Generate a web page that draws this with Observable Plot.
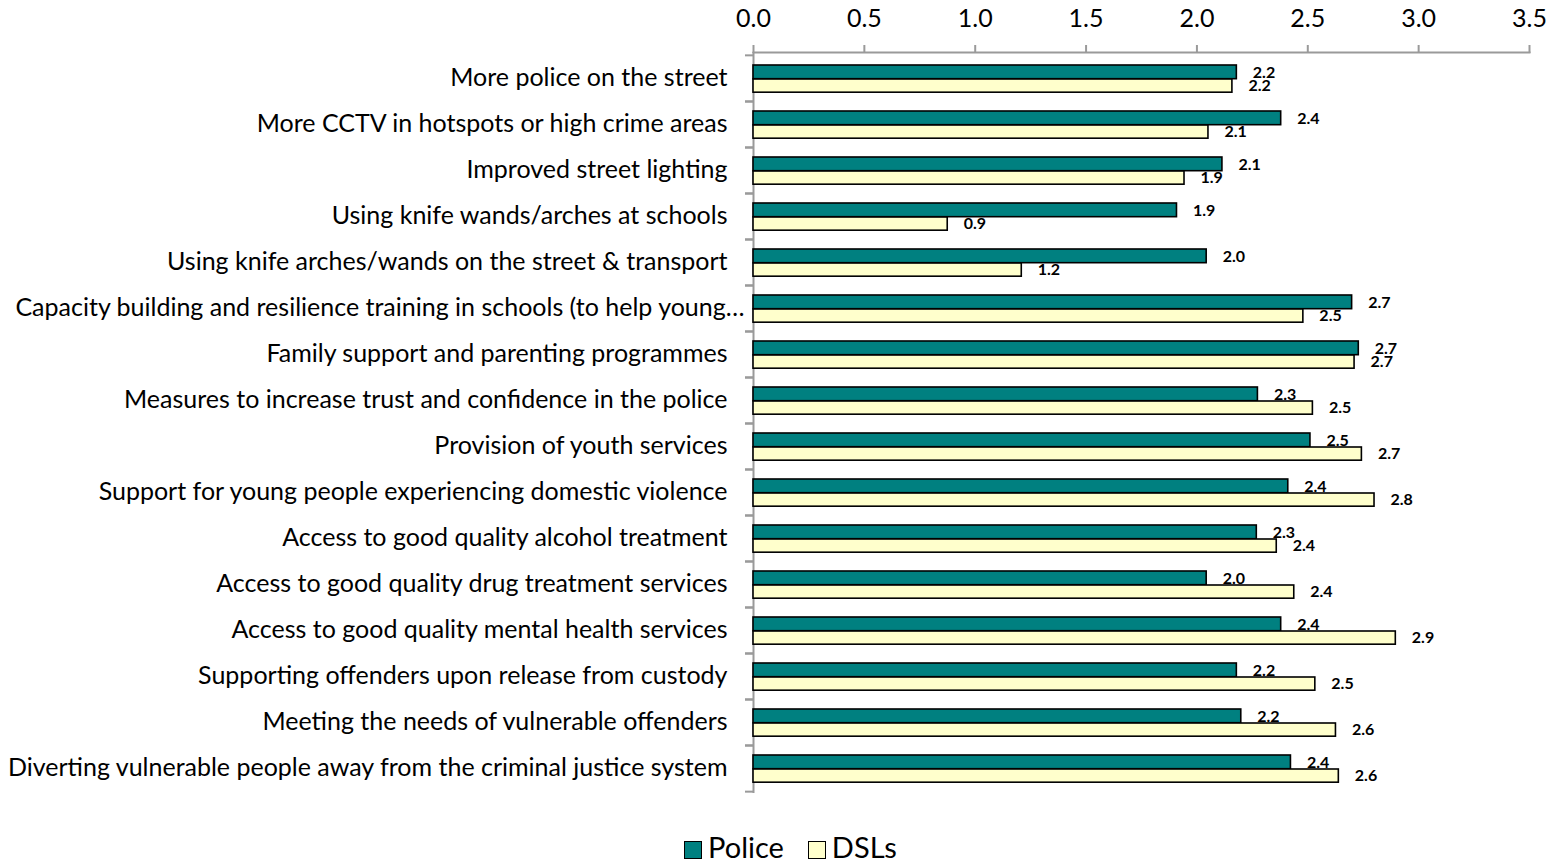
<!DOCTYPE html>
<html>
<head>
<meta charset="utf-8">
<script src="https://cdn.jsdelivr.net/npm/d3@7"></script>
<script src="https://cdn.jsdelivr.net/npm/@observablehq/plot@0.6"></script>
<style>
  html, body { margin: 0; padding: 0; background: #fff; }
  body { position: relative; width: 1557px; height: 861px; overflow: hidden; font-family: Lato, "Open Sans", sans-serif; }
  #legend { position: absolute; left: 12px; top: 832px; width: 1557px; height: 29px; line-height: 29px; display: flex; justify-content: center; align-items: center; gap: 24px; font-size: 29px; color: #000; }
  #legend .item { display: flex; align-items: center; gap: 6px; }
  #legend .swatch { position: relative; top: 3px; width: 18px; height: 18px; border: 1.5px solid #000; box-sizing: border-box; }
</style>
</head>
<body>
<div id="chart"></div>
<div id="legend"></div>
<script>
// Interventions rated by each respondent group
const categories = [
  "More police on the street",
  "More CCTV in hotspots or high crime areas",
  "Improved street lighting",
  "Using knife wands/arches at schools",
  "Using knife arches/wands on the street & transport",
  "Capacity building and resilience training in schools (to help young…",
  "Family support and parenting programmes",
  "Measures to increase trust and confidence in the police",
  "Provision of youth services",
  "Support for young people experiencing domestic violence",
  "Access to good quality alcohol treatment",
  "Access to good quality drug treatment services",
  "Access to good quality mental health services",
  "Supporting offenders upon release from custody",
  "Meeting the needs of vulnerable offenders",
  "Diverting vulnerable people away from the criminal justice system"
];
// the one category whose label is shortened with an ellipsis
const truncatedCategory = categories[5];
const seriesNames = ["Police", "DSLs"];
const seriesColors = ["#008080", "#FFFFCC"];
const police = [2.18, 2.38, 2.115, 1.91, 2.044, 2.70, 2.73, 2.275, 2.512, 2.412, 2.27, 2.044, 2.38, 2.18, 2.20, 2.424];
const dsls   = [2.16, 2.052, 1.944, 0.876, 1.21, 2.48, 2.711, 2.523, 2.744, 2.801, 2.36, 2.439, 2.897, 2.534, 2.627, 2.64];
const xTicks = [0, 0.5, 1, 1.5, 2, 2.5, 3, 3.5];

const rows = [];
categories.forEach((c, i) => {
  rows.push({category: c, series: "Police", value: police[i]});
  rows.push({category: c, series: "DSLs", value: dsls[i]});
});
const policeRows = rows.filter(d => d.series === "Police");
const dslRows = rows.filter(d => d.series === "DSLs");

const width = 1557, height = 820;
const marginTop = 52, marginBottom = 27, marginLeft = 753, marginRight = 28;
const step = (height - marginTop - marginBottom) / categories.length;
const gray = "#9a9a9a";
const fmt = d3.format(".1f");

const chart = Plot.plot({
  width, height, marginTop, marginBottom, marginLeft, marginRight,
  style: {fontFamily: "Lato, 'Open Sans', sans-serif", color: "#000", background: "#fff"},
  x: {domain: [0, 3.5], axis: null},
  y: {domain: categories, padding: 0, axis: null},
  color: {domain: seriesNames, range: seriesColors},
  marks: [
    // top value axis
    Plot.axisX({anchor: "top", label: null, ticks: xTicks, tickFormat: fmt, tickSize: 8, tickPadding: 18, fontSize: 25, stroke: gray, strokeWidth: 2}),
    Plot.frame({anchor: "top", stroke: gray, strokeWidth: 2}),
    // category axis: line, boundary ticks, labels
    Plot.ruleX([0], {stroke: gray, strokeWidth: 2}),
    Plot.axisY({label: null, text: null, tickSize: 8, dy: -step / 2, stroke: gray, strokeWidth: 2}),
    Plot.axisY({label: null, text: null, tickSize: 8, dy: step / 2, stroke: gray, strokeWidth: 2}),
    Plot.axisY({label: null, ticks: categories.filter(c => c !== truncatedCategory), tickSize: 0, tickPadding: 26, fontSize: 25, dy: -1}),
    Plot.axisY({label: null, ticks: [truncatedCategory], tickSize: 0, tickPadding: 9, fontSize: 25, dy: -1}),
    // bars
    Plot.barX(policeRows, {x: "value", y: "category", fill: "series", stroke: "#000", strokeWidth: 1.6, insetTop: 10, insetBottom: step - 24}),
    Plot.barX(dslRows, {x: "value", y: "category", fill: "series", stroke: "#000", strokeWidth: 1.6, insetTop: 24, insetBottom: step - 37.5}),
    // value labels
    Plot.text(policeRows, {x: "value", y: "category", text: d => fmt(d.value), textAnchor: "start", dx: 16, dy: -6, fontSize: 16, fontWeight: "bold", fill: "#000"}),
    Plot.text(dslRows, {x: "value", y: "category", text: d => fmt(d.value), textAnchor: "start", dx: 16, dy: 7, fontSize: 16, fontWeight: "bold", fill: "#000"})
  ]
});
document.getElementById("chart").appendChild(chart);

const legend = d3.select("#legend");
seriesNames.forEach((name, i) => {
  const item = legend.append("div").attr("class", "item");
  item.append("div").attr("class", "swatch").style("background", seriesColors[i]);
  item.append("span").text(name);
});
</script>
</body>
</html>
